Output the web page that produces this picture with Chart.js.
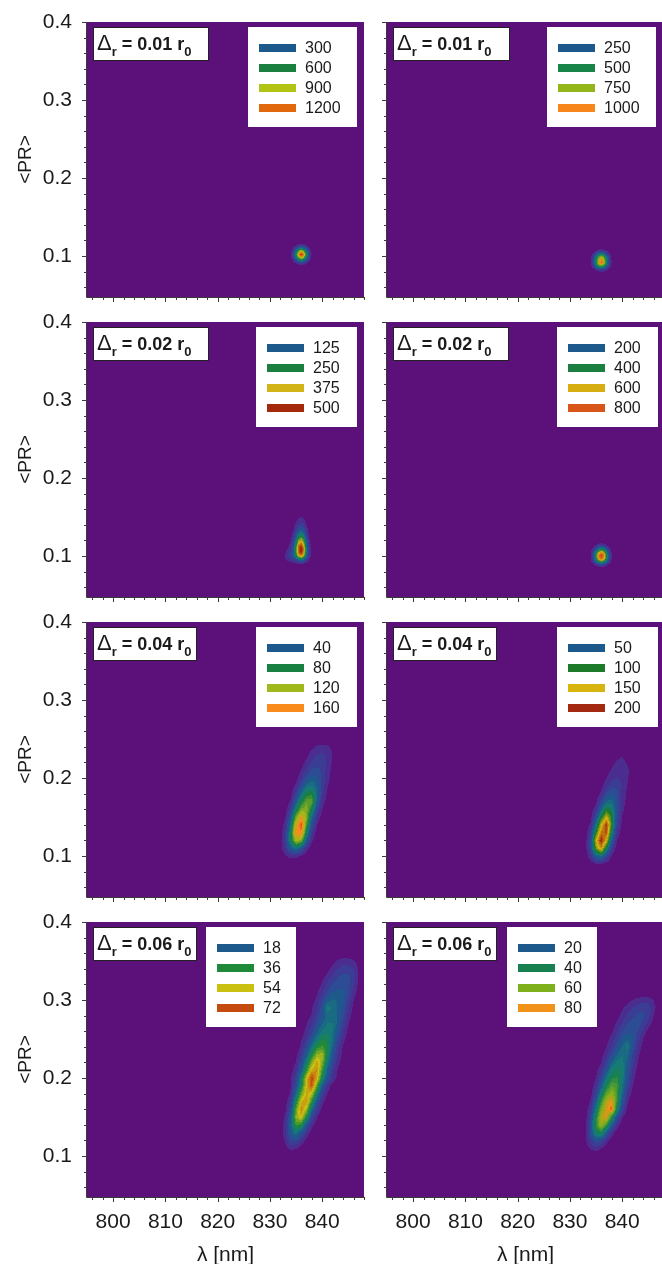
<!DOCTYPE html>
<html>
<head>
<meta charset="utf-8">
<script src="https://cdn.jsdelivr.net/npm/chart.js@4.4.1/dist/chart.umd.min.js"></script>
<style>
html, body { margin: 0; padding: 0; background: #fff; overflow: hidden; }
body { width: 662px; height: 1264px; position: relative; }
canvas { position: absolute; }
</style>
</head>
<body>
<script>
// 坐标轴范围
const lambdaRange = [795, 848];
const prRange = [0.0475, 0.4];
const lambdaTickStep = 10;
const lambdaMinorStep = 2;
const prTickStep = 0.1;
const prMinorStep = 0.02;

// 每个子图的 Δr 标签
const deltaLabels = ['0.01', '0.01', '0.02', '0.02', '0.04', '0.04', '0.06', '0.06'];

// 图例等值线级别
const levels1 = [300, 600, 900, 1200];
const levels2 = [250, 500, 750, 1000];
const levels3 = [125, 250, 375, 500];
const levels4 = [200, 400, 600, 800];
const levels5 = [40, 80, 120, 160];
const levels6 = [50, 100, 150, 200];
const levels7 = [18, 36, 54, 72];
const levels8 = [20, 40, 60, 80];

// 子图1 密度网格 (λ 列, PR 行, 计数)
const p1Lambda = [833.5, 834, 834.5, 835, 835.5, 836, 836.5, 837, 837.5, 838, 838.5];
const p1PR = [0.086, 0.090, 0.094, 0.098, 0.102, 0.106, 0.110, 0.114, 0.118];
const p1Counts = [
    [0, 0, 0, 10, 20, 25, 20, 10, 0, 0, 0],
    [0, 0, 25, 60, 100, 130, 100, 60, 25, 0, 0],
    [0, 20, 90, 220, 380, 480, 380, 220, 90, 20, 0],
    [0, 40, 180, 450, 800, 1050, 800, 450, 180, 40, 0],
    [0, 60, 250, 620, 1100, 1450, 1100, 620, 250, 60, 0],
    [0, 40, 180, 450, 800, 1050, 800, 450, 180, 40, 0],
    [0, 20, 90, 220, 380, 480, 380, 220, 90, 20, 0],
    [0, 0, 25, 60, 100, 130, 100, 60, 25, 0, 0],
    [0, 0, 0, 10, 20, 25, 20, 10, 0, 0, 0]
];

// 子图2
const p2Lambda = [833.5, 834, 834.5, 835, 835.5, 836, 836.5, 837, 837.5, 838, 838.5];
const p2PR = [0.079, 0.083, 0.087, 0.091, 0.095, 0.099, 0.103, 0.107, 0.111];
const p2Counts = [
    [0, 0, 0, 10, 20, 25, 20, 10, 0, 0, 0],
    [0, 10, 40, 100, 160, 190, 160, 100, 40, 10, 0],
    [0, 30, 130, 320, 520, 620, 520, 320, 130, 30, 0],
    [0, 50, 200, 480, 850, 1150, 850, 480, 200, 50, 0],
    [0, 50, 200, 480, 820, 1050, 820, 480, 200, 50, 0],
    [0, 40, 160, 380, 650, 800, 650, 380, 160, 40, 0],
    [0, 20, 80, 190, 320, 400, 320, 190, 80, 20, 0],
    [0, 0, 20, 50, 90, 110, 90, 50, 20, 0, 0],
    [0, 0, 0, 0, 0, 0, 0, 0, 0, 0, 0]
];

// 子图3
const p3Lambda = [832.5, 833, 833.5, 834, 834.5, 835, 835.5, 836, 836.5, 837, 837.5, 838, 838.5];
const p3PR = [0.085, 0.090, 0.095, 0.100, 0.105, 0.110, 0.115, 0.120, 0.125, 0.130, 0.135, 0.140, 0.145, 0.150, 0.155];
const p3Counts = [
    [0, 0, 0, 0, 0, 0, 0, 0, 0, 0, 0, 0, 0],
    [0, 0, 5, 10, 15, 20, 25, 30, 25, 15, 5, 0, 0],
    [10, 25, 40, 55, 70, 100, 140, 160, 130, 70, 30, 8, 0],
    [20, 40, 65, 90, 130, 240, 380, 430, 340, 160, 55, 15, 0],
    [10, 30, 55, 85, 150, 300, 470, 520, 420, 200, 65, 15, 0],
    [0, 15, 35, 60, 140, 300, 480, 540, 430, 200, 65, 15, 0],
    [0, 5, 20, 45, 110, 250, 420, 470, 370, 170, 55, 10, 0],
    [0, 0, 10, 30, 80, 190, 330, 380, 290, 130, 40, 5, 0],
    [0, 0, 0, 18, 55, 130, 240, 280, 210, 90, 25, 0, 0],
    [0, 0, 0, 10, 40, 90, 160, 190, 140, 65, 18, 0, 0],
    [0, 0, 0, 5, 28, 60, 100, 120, 95, 45, 12, 0, 0],
    [0, 0, 0, 0, 18, 42, 65, 78, 62, 32, 6, 0, 0],
    [0, 0, 0, 0, 8, 28, 45, 52, 42, 20, 0, 0, 0],
    [0, 0, 0, 0, 0, 12, 26, 32, 24, 8, 0, 0, 0],
    [0, 0, 0, 0, 0, 0, 0, 0, 0, 0, 0, 0, 0]
];

// 子图4
const p4Lambda = [833.5, 834, 834.5, 835, 835.5, 836, 836.5, 837, 837.5, 838, 838.5];
const p4PR = [0.085, 0.089, 0.093, 0.097, 0.101, 0.105, 0.109, 0.113, 0.117, 0.121];
const p4Counts = [
    [0, 0, 0, 5, 10, 15, 10, 5, 0, 0, 0],
    [0, 10, 30, 80, 130, 160, 130, 80, 30, 10, 0],
    [0, 30, 110, 260, 420, 500, 420, 260, 110, 30, 0],
    [0, 45, 170, 400, 680, 820, 680, 400, 170, 45, 0],
    [0, 50, 180, 430, 740, 900, 740, 430, 180, 50, 0],
    [0, 40, 150, 340, 560, 680, 560, 340, 150, 40, 0],
    [0, 20, 80, 190, 320, 390, 320, 190, 80, 20, 0],
    [0, 5, 30, 70, 120, 150, 120, 70, 30, 5, 0],
    [0, 0, 0, 10, 25, 35, 25, 10, 0, 0, 0],
    [0, 0, 0, 0, 0, 0, 0, 0, 0, 0, 0]
];

// 子图5
const p5Lambda = [832, 833, 834, 835, 836, 837, 838, 839, 840, 841, 842, 843, 844];
const p5PR = [0.09, 0.10, 0.11, 0.12, 0.13, 0.14, 0.15, 0.16, 0.17, 0.18, 0.19, 0.20, 0.21, 0.22, 0.23, 0.24, 0.25];
const p5Counts = [
    [],
    [2, 8, 14, 14, 8, 3],
    [6, 20, 45, 60, 42, 15, 3],
    [6, 25, 75, 130, 115, 45, 12, 2],
    [4, 22, 75, 165, 165, 75, 22, 5],
    [2, 16, 60, 145, 185, 100, 35, 10, 2],
    [0, 10, 40, 110, 150, 118, 55, 18, 5],
    [0, 5, 24, 72, 112, 118, 82, 30, 10, 2],
    [0, 3, 12, 42, 82, 108, 106, 45, 16, 5],
    [0, 0, 6, 24, 54, 82, 86, 52, 22, 8, 2],
    [0, 0, 3, 12, 32, 55, 60, 48, 26, 11, 3],
    [0, 0, 0, 6, 18, 34, 44, 40, 28, 14, 5],
    [0, 0, 0, 3, 10, 22, 32, 33, 27, 16, 6],
    [0, 0, 0, 0, 5, 13, 22, 27, 25, 18, 8, 2],
    [0, 0, 0, 0, 2, 7, 14, 20, 22, 17, 10, 3],
    [0, 0, 0, 0, 0, 3, 8, 12, 14, 12, 7, 2],
    []
];

// 子图6
const p6Lambda = [832, 833, 834, 835, 836, 837, 838, 839, 840, 841, 842, 843, 844];
const p6PR = [0.08, 0.09, 0.10, 0.11, 0.12, 0.13, 0.14, 0.15, 0.16, 0.17, 0.18, 0.19, 0.20, 0.21, 0.22, 0.23, 0.24];
const p6Counts = [
    [],
    [0, 2, 6, 12, 12, 6, 2],
    [0, 5, 22, 60, 72, 35, 10, 2],
    [0, 8, 40, 130, 170, 95, 28, 6],
    [0, 8, 40, 150, 210, 155, 55, 12, 2],
    [0, 5, 30, 112, 178, 192, 88, 22, 5],
    [0, 3, 16, 72, 152, 202, 110, 32, 8],
    [0, 0, 8, 40, 102, 152, 105, 42, 12, 3],
    [0, 0, 4, 20, 62, 102, 88, 46, 16, 5],
    [0, 0, 2, 9, 34, 64, 68, 45, 20, 7],
    [0, 0, 0, 4, 16, 38, 50, 42, 22, 9, 2],
    [0, 0, 0, 2, 8, 22, 34, 34, 24, 12, 3],
    [0, 0, 0, 0, 4, 12, 22, 26, 22, 14, 5],
    [0, 0, 0, 0, 2, 6, 14, 20, 20, 15, 6],
    [0, 0, 0, 0, 0, 3, 9, 14, 16, 11, 4],
    [0, 0, 0, 0, 0, 0, 4, 9, 11, 7, 2],
    []
];

// 子图7
const p7Lambda = [832, 833, 834, 835, 836, 837, 838, 839, 840, 841, 842, 843, 844, 845, 846, 847];
const p7PR = [0.10, 0.11, 0.12, 0.13, 0.14, 0.15, 0.16, 0.17, 0.18, 0.19, 0.20, 0.21, 0.22, 0.23,
    0.24, 0.25, 0.26, 0.27, 0.28, 0.29, 0.30, 0.31, 0.32, 0.33, 0.34, 0.35, 0.36];
const p7Counts = [
    [],
    [0, 3, 6, 5, 2],
    [0, 6, 14, 14, 8, 3],
    [2, 8, 20, 28, 18, 8, 2],
    [2, 8, 22, 42, 38, 18, 6, 2],
    [0, 6, 20, 50, 58, 36, 14, 5],
    [0, 4, 15, 45, 66, 52, 26, 10, 3],
    [0, 2, 10, 35, 58, 63, 40, 18, 6, 2],
    [0, 0, 6, 24, 46, 60, 55, 30, 12, 4],
    [0, 0, 4, 15, 35, 58, 73, 45, 20, 8, 2],
    [0, 0, 4, 12, 30, 55, 76, 60, 35, 18, 8, 3],
    [0, 0, 2, 8, 20, 40, 60, 64, 42, 22, 10, 4],
    [0, 0, 0, 5, 14, 30, 48, 62, 50, 28, 14, 6, 2],
    [0, 0, 0, 3, 9, 20, 36, 50, 52, 34, 18, 8, 3],
    [0, 0, 0, 0, 6, 14, 26, 38, 42, 36, 22, 10, 4],
    [0, 0, 0, 0, 4, 9, 18, 28, 35, 35, 26, 14, 6, 2],
    [0, 0, 0, 0, 2, 6, 12, 20, 28, 30, 27, 18, 9, 3],
    [0, 0, 0, 0, 0, 4, 8, 15, 22, 27, 27, 21, 12, 5],
    [0, 0, 0, 0, 0, 2, 5, 11, 18, 24, 26, 22, 15, 7, 2],
    [0, 0, 0, 0, 0, 0, 4, 9, 16, 30, 26, 22, 17, 9, 3],
    [0, 0, 0, 0, 0, 0, 2, 6, 12, 20, 23, 22, 18, 12, 5],
    [0, 0, 0, 0, 0, 0, 0, 4, 8, 14, 18, 19, 19, 14, 7, 2],
    [0, 0, 0, 0, 0, 0, 0, 2, 5, 10, 14, 16, 17, 15, 10, 3],
    [0, 0, 0, 0, 0, 0, 0, 0, 3, 6, 10, 13, 15, 15, 11, 4],
    [0, 0, 0, 0, 0, 0, 0, 0, 0, 3, 6, 9, 11, 11, 9, 4],
    [0, 0, 0, 0, 0, 0, 0, 0, 0, 0, 3, 5, 7, 7, 5, 2],
    []
];

// 子图8
const p8Lambda = [832, 833, 834, 835, 836, 837, 838, 839, 840, 841, 842, 843, 844, 845, 846, 847];
const p8PR = [0.10, 0.11, 0.12, 0.13, 0.14, 0.15, 0.16, 0.17, 0.18, 0.19, 0.20, 0.21, 0.22, 0.23,
    0.24, 0.25, 0.26, 0.27, 0.28, 0.29, 0.30, 0.31];
const p8Counts = [
    [],
    [0, 2, 6, 8, 5, 2],
    [0, 4, 12, 20, 16, 7, 2],
    [0, 5, 18, 38, 42, 22, 8, 2],
    [0, 4, 18, 48, 70, 50, 22, 8, 2],
    [0, 3, 14, 42, 72, 80, 45, 18, 6],
    [0, 2, 10, 32, 62, 78, 90, 38, 14, 4],
    [0, 0, 6, 22, 48, 72, 80, 48, 20, 6],
    [0, 0, 3, 14, 34, 56, 66, 52, 26, 10, 3],
    [0, 0, 2, 8, 22, 42, 55, 52, 30, 14, 5],
    [0, 0, 0, 5, 14, 30, 44, 46, 34, 18, 7, 2],
    [0, 0, 0, 3, 9, 20, 34, 40, 34, 20, 9, 3],
    [0, 0, 0, 0, 5, 13, 24, 32, 32, 24, 12, 5],
    [0, 0, 0, 0, 3, 8, 16, 25, 30, 27, 15, 6, 2],
    [0, 0, 0, 0, 0, 5, 10, 18, 26, 32, 18, 9, 3],
    [0, 0, 0, 0, 0, 3, 7, 13, 20, 24, 20, 12, 5],
    [0, 0, 0, 0, 0, 0, 4, 9, 15, 19, 19, 15, 9, 3],
    [0, 0, 0, 0, 0, 0, 2, 6, 10, 15, 17, 17, 14, 8, 3],
    [0, 0, 0, 0, 0, 0, 0, 3, 7, 11, 14, 16, 16, 12, 5],
    [0, 0, 0, 0, 0, 0, 0, 0, 4, 7, 10, 13, 14, 13, 7, 2],
    [0, 0, 0, 0, 0, 0, 0, 0, 0, 3, 5, 7, 8, 8, 5, 0],
    []
];

const FONT = '"Liberation Sans", Arial, Helvetica, sans-serif';
const BG = [91, 17, 121];
const TEXT = '#1a1a1a';

// 子图配置（位置与样式）
const panels = [
    { lam: p1Lambda, pr: p1PR, counts: p1Counts, levels: levels1, delta: deltaLabels[0], row: 0, col: 0,
      colors: ['#1d5a8b', '#1a7f3f', '#b3c414', '#e2680e'], legendX: 161, legendW: 109, boxW: 116 },
    { lam: p2Lambda, pr: p2PR, counts: p2Counts, levels: levels2, delta: deltaLabels[1], row: 0, col: 1,
      colors: ['#1d5a8b', '#198447', '#93b61b', '#f7871c'], legendX: 160, legendW: 109, boxW: 117 },
    { lam: p3Lambda, pr: p3PR, counts: p3Counts, levels: levels3, delta: deltaLabels[2], row: 1, col: 0,
      colors: ['#1d5a8b', '#1a7f3f', '#d3b418', '#a2290c'], legendX: 169, legendW: 101, boxW: 116 },
    { lam: p4Lambda, pr: p4PR, counts: p4Counts, levels: levels4, delta: deltaLabels[3], row: 1, col: 1,
      colors: ['#1d5a8b', '#1a7f3f', '#d6ae12', '#d9561b'], legendX: 170, legendW: 101, boxW: 116 },
    { lam: p5Lambda, pr: p5PR, counts: p5Counts, levels: levels5, delta: deltaLabels[4], row: 2, col: 0,
      colors: ['#1d5a8b', '#188040', '#a0b81c', '#f88b1c'], legendX: 169, legendW: 101, boxW: 104 },
    { lam: p6Lambda, pr: p6PR, counts: p6Counts, levels: levels6, delta: deltaLabels[5], row: 2, col: 1,
      colors: ['#1d5a8b', '#1d7a28', '#d8b40e', '#a32a10'], legendX: 170, legendW: 101, boxW: 104 },
    { lam: p7Lambda, pr: p7PR, counts: p7Counts, levels: levels7, delta: deltaLabels[6], row: 3, col: 0,
      colors: ['#1d5a8b', '#1e8a3a', '#c9c012', '#c64b0f'], legendX: 119, legendW: 90, boxW: 104 },
    { lam: p8Lambda, pr: p8PR, counts: p8Counts, levels: levels8, delta: deltaLabels[7], row: 3, col: 1,
      colors: ['#1d5a8b', '#198050', '#7db01b', '#f0911a'], legendX: 120, legendW: 90, boxW: 104 }
];

function hexToRgb(h) {
    const n = parseInt(h.slice(1), 16);
    return [(n >> 16) & 255, (n >> 8) & 255, n & 255];
}

// 等值线色带（按第一级图例值的倍数）
function buildLut(p) {
    const anchors = [
        [0.25, '#4a2d8e'], [0.5, '#3b3c93'], [0.75, '#2c4c94'], [1, p.colors[0]],
        [1.5, '#157a78'], [2, p.colors[1]], [3, p.colors[2]], [4, p.colors[3]], [4.75, '#b81c1c']
    ].map(a => [a[0], hexToRgb(a[1])]);
    const lut = [BG];
    for (let q = 1; q <= 24; q++) {
        const t = q / 4;
        let c = anchors[anchors.length - 1][1];
        for (let k = 0; k < anchors.length - 1; k++) {
            const a = anchors[k], b = anchors[k + 1];
            if (t <= a[0]) { c = a[1]; break; }
            if (t < b[0]) {
                const f = (t - a[0]) / (b[0] - a[0]);
                c = [0, 1, 2].map(i => Math.round(a[1][i] + f * (b[1][i] - a[1][i])));
                break;
            }
        }
        lut.push(c);
    }
    return lut;
}

function locate(arr, v) {
    if (v < arr[0] || v > arr[arr.length - 1]) return null;
    let i = 0;
    while (i < arr.length - 2 && v > arr[i + 1]) i++;
    return [i, (v - arr[i]) / (arr[i + 1] - arr[i])];
}

function cell(counts, j, i) {
    const r = counts[j];
    return (r && r[i]) || 0;
}

// 绘制密度场
function drawField(chart, p) {
    const area = chart.chartArea;
    const left = Math.round(area.left), top = Math.round(area.top);
    const w = Math.round(area.right) - left, h = Math.round(area.bottom) - top;
    const xs = chart.scales.x, ys = chart.scales.y;
    const lut = buildLut(p);
    const band = p.levels[0] / 4;
    const cx = [], cy = [];
    for (let px = 0; px < w; px++) cx.push(locate(p.lam, xs.getValueForPixel(left + px + 0.5)));
    for (let py = 0; py < h; py++) cy.push(locate(p.pr, ys.getValueForPixel(top + py + 0.5)));
    const off = document.createElement('canvas');
    off.width = w; off.height = h;
    const octx = off.getContext('2d');
    const img = octx.createImageData(w, h);
    for (let py = 0; py < h; py++) {
        for (let px = 0; px < w; px++) {
            let v = 0;
            const a = cx[px], b = cy[py];
            if (a && b) {
                const [i, fx] = a, [j, fy] = b;
                v = cell(p.counts, j, i) * (1 - fx) * (1 - fy) + cell(p.counts, j, i + 1) * fx * (1 - fy) +
                    cell(p.counts, j + 1, i) * (1 - fx) * fy + cell(p.counts, j + 1, i + 1) * fx * fy;
            }
            const q = Math.min(lut.length - 1, Math.max(0, Math.floor(v / band)));
            const c = lut[q];
            const k = (py * w + px) * 4;
            img.data[k] = c[0]; img.data[k + 1] = c[1]; img.data[k + 2] = c[2]; img.data[k + 3] = 255;
        }
    }
    octx.putImageData(img, 0, 0);
    chart.ctx.drawImage(off, left, top);
}

// 轴线、刻度、标签框与图例
function drawDecor(chart, p) {
    const ctx = chart.ctx;
    const { left, right, top, bottom } = chart.chartArea;
    const xs = chart.scales.x, ys = chart.scales.y;
    ctx.save();
    ctx.strokeStyle = '#3a3a3a';
    ctx.lineWidth = 1;
    ctx.beginPath();
    ctx.moveTo(left - 0.5, top);
    ctx.lineTo(left - 0.5, bottom + 0.5);
    ctx.lineTo(right, bottom + 0.5);
    ctx.stroke();
    ctx.beginPath();
    for (let k = Math.ceil(lambdaRange[0] / lambdaMinorStep); k * lambdaMinorStep <= lambdaRange[1]; k++) {
        const v = k * lambdaMinorStep;
        const x = Math.round(xs.getPixelForValue(v)) + 0.5;
        const len = v % lambdaTickStep === 0 ? 5 : 3;
        ctx.moveTo(x, bottom);
        ctx.lineTo(x, bottom + len);
    }
    const kMax = Math.floor(prRange[1] / prMinorStep + 1e-6);
    for (let k = Math.ceil(prRange[0] / prMinorStep); k <= kMax; k++) {
        const y = Math.round(ys.getPixelForValue(k * prMinorStep)) + 0.5;
        const len = k % 5 === 0 ? 5 : 3;
        ctx.moveTo(left, y);
        ctx.lineTo(left - len, y);
    }
    ctx.stroke();

    // Δr 标签框
    const bx = left + 6, by = top + 5;
    ctx.fillStyle = '#fff';
    ctx.fillRect(bx, by, p.boxW, 34);
    ctx.strokeStyle = '#222';
    ctx.strokeRect(bx + 0.5, by + 0.5, p.boxW - 1, 33);
    ctx.fillStyle = TEXT;
    ctx.textBaseline = 'alphabetic';
    ctx.textAlign = 'left';
    let tx = bx + 4;
    const base = by + 23;
    ctx.font = '22px ' + FONT;
    ctx.fillText('Δ', tx, base);
    tx += ctx.measureText('Δ').width;
    ctx.font = 'bold 13px ' + FONT;
    ctx.fillText('r', tx, base + 6);
    tx += ctx.measureText('r').width + 5;
    ctx.font = 'bold 18px ' + FONT;
    const main = '= ' + p.delta + ' r';
    ctx.fillText(main, tx, base);
    tx += ctx.measureText(main).width;
    ctx.font = 'bold 13px ' + FONT;
    ctx.fillText('0', tx, base + 6);

    // 图例
    const lx = left + p.legendX, ly = top + 5;
    ctx.fillStyle = '#fff';
    ctx.fillRect(lx, ly, p.legendW, 100);
    ctx.font = '16px ' + FONT;
    ctx.textBaseline = 'middle';
    p.levels.forEach((lv, i) => {
        const yc = ly + 21 + i * 20;
        ctx.fillStyle = p.colors[i];
        ctx.fillRect(lx + 11, yc - 4, 37, 8);
        ctx.fillStyle = TEXT;
        ctx.fillText(String(lv), lx + 57, yc + 1);
    });
    ctx.restore();
}

function makePlugin(p) {
    return {
        id: 'densityField',
        beforeDatasetsDraw(chart) { drawField(chart, p); },
        afterDraw(chart) { drawDecor(chart, p); }
    };
}

function buildChart(p) {
    const plotTop = 22 + 300 * p.row;
    const plotBottom = 297 + 300 * p.row;
    const isLeft = p.col === 0;
    const isBottom = p.row === 3;
    const yW = isLeft ? 87 : 10;
    const xH = isBottom ? 75 : 8;
    const canvasLeft = isLeft ? 0 : 377;
    const width = isLeft ? 366 : 289;
    const padTop = 14;
    const height = (plotBottom - plotTop) + padTop + xH;

    const canvas = document.createElement('canvas');
    canvas.width = width;
    canvas.height = height;
    canvas.style.left = canvasLeft + 'px';
    canvas.style.top = (plotTop - padTop) + 'px';
    canvas.style.width = width + 'px';
    canvas.style.height = height + 'px';
    document.body.appendChild(canvas);

    // 网格计数作为数据集（由插件按刻度绘制）
    const cells = [];
    p.counts.forEach((r, j) => r.forEach((v, i) => {
        if (v > 0) cells.push({ x: p.lam[i], y: p.pr[j], v: v });
    }));

    return new Chart(canvas, {
        type: 'scatter',
        data: { datasets: [{ data: cells, pointRadius: 0, pointHoverRadius: 0 }] },
        options: {
            responsive: false,
            animation: false,
            devicePixelRatio: 1,
            events: [],
            layout: { padding: { top: padTop, right: 2, left: 0, bottom: 0 } },
            plugins: { legend: { display: false }, tooltip: { enabled: false } },
            scales: {
                x: {
                    type: 'linear',
                    min: lambdaRange[0],
                    max: lambdaRange[1],
                    grid: { display: false, drawTicks: false },
                    border: { display: false },
                    ticks: {
                        display: isBottom,
                        stepSize: lambdaTickStep,
                        includeBounds: false,
                        autoSkip: false,
                        maxRotation: 0,
                        padding: 13,
                        color: TEXT,
                        font: { family: FONT, size: 21 },
                        callback: v => String(v)
                    },
                    title: {
                        display: isBottom,
                        text: 'λ [nm]',
                        color: TEXT,
                        font: { family: FONT, size: 21 },
                        padding: { top: 0, bottom: 4 }
                    },
                    afterFit: s => {
                        s.height = xH;
                        s.paddingLeft = 0;
                        s.paddingRight = 0;
                    }
                },
                y: {
                    type: 'linear',
                    min: prRange[0],
                    max: prRange[1],
                    grid: { display: false, drawTicks: false },
                    border: { display: false },
                    ticks: {
                        display: isLeft,
                        stepSize: prTickStep,
                        includeBounds: false,
                        autoSkip: false,
                        padding: 15,
                        color: TEXT,
                        font: { family: FONT, size: 21 },
                        callback: v => v.toFixed(1)
                    },
                    title: {
                        display: isLeft,
                        text: '<PR>',
                        color: TEXT,
                        font: { family: FONT, size: 19 },
                        padding: { top: 14, bottom: 0 }
                    },
                    afterFit: s => {
                        s.width = yW;
                        s.paddingTop = 0;
                        s.paddingBottom = 0;
                    }
                }
            }
        },
        plugins: [makePlugin(p)]
    });
}

panels.forEach(buildChart);
</script>
</body>
</html>
